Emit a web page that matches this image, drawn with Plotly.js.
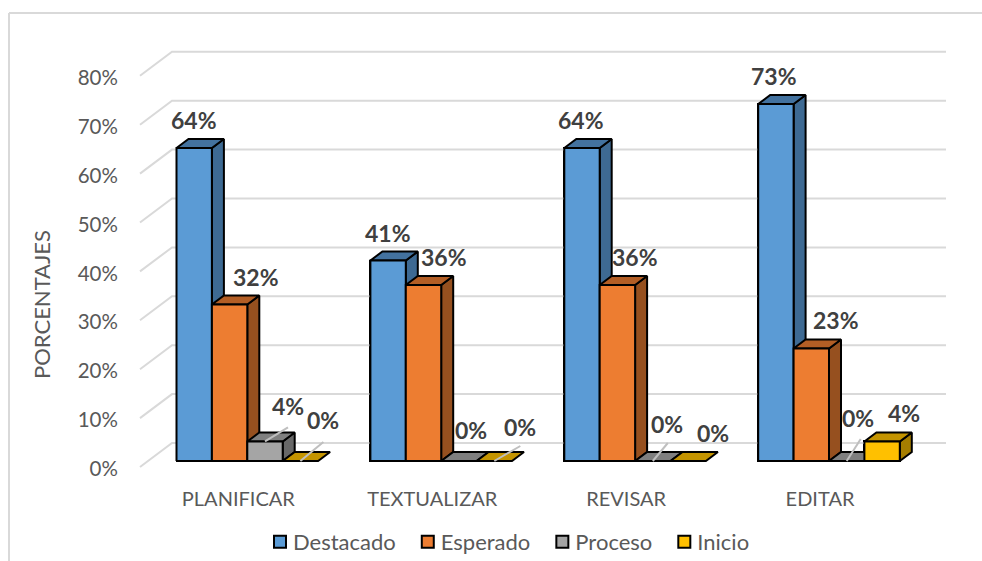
<!DOCTYPE html>
<html><head><meta charset="utf-8">
<script src="https://cdn.plot.ly/plotly-3.0.1.min.js"></script>
<style>html,body{margin:0;padding:0;background:#fff}#c{width:982px;height:561px}
#c .legend .legendsymbols{transform:translateX(7px)}</style>
</head><body><div id="c"></div>
<script>
const categories = ["PLANIFICAR","TEXTUALIZAR","REVISAR","EDITAR"];
const seriesNames = ["Destacado","Esperado","Proceso","Inicio"];
const destacado = [64,41,64,73];
const esperado = [32,36,36,23];
const proceso = [4,0,0,0];
const inicio = [0,0,0,4];
const yTicks = [0,10,20,30,40,50,60,70,80];

const frontColors = ["#5B9BD5","#ED7D31","#A5A5A5","#FFC000"];
const topColors = ["#43729F","#B35E25","#7F7F7F","#C49400"];
const sideColors = ["#3E6A93","#96501F","#686868","#A67E00"];

// label offsets in px from the top-centre of each bar's front face
const labelOffsets = [
  [[0,-28],[26,-28],[23,-35],[23,-41]],
  [[0,-28],[20,-28],[12,-31],[26,-34]],
  [[-1,-28],[18,-28],[14,-37],[25,-28]],
  [[-2,-28],[25,-29],[11,-43],[22,-28]]
];
// leader lines: [category, series, px dx, px dy]
const leaders = [[0,2,23,-14],[0,3,23,-19],[1,3,26,-15],[2,2,15,-18],[3,2,14,-22]];

const W=982,H=561,mL=138,mR=34,mT=50,mB=92;
const plotW=W-mL-mR, plotH=H-mT-mB;
const pxX=193.9, pxY=4.89;           // px per category, px per percent
const firstCenterPx=239.3;
const xRange=[(mL-firstCenterPx)/pxX,(W-mR-firstCenterPx)/pxX];
const yRange=[-2/pxY,(467-mT)/pxY];
const wallLeft=(140-firstCenterPx)/pxX, wallRight=(946-firstCenterPx)/pxX;
const barW=35.4/pxX;
const wallDX=32/pxX, wallDY=24/pxY;  // floor depth in data units
const zFront=0.25, zBack=0.625;      // bar depth within the floor
const values=[destacado,esperado,proceso,inicio];

const P=(x,y,z)=>[x+z*wallDX,y+z*wallDY];
function poly(pts,fill){
  const c=pts.concat([pts[0]]);
  return {type:"scatter",mode:"lines",x:c.map(p=>p[0]),y:c.map(p=>p[1]),fill:"toself",fillcolor:fill,
    line:{color:"#000",width:2,simplify:false},showlegend:false,hoverinfo:"skip"};
}

const traces=[];
// real bars (give the legend)
seriesNames.forEach((n,s)=>{
  traces.push({type:"bar",name:n,x:categories.map((_,i)=>i+zFront*wallDX),y:values[s],
    base:zFront*wallDY,width:barW,offset:(s-2)*barW,
    marker:{color:frontColors[s],line:{color:"#000",width:2}},hoverinfo:"y+name"});
});
// walls / gridlines
const gx=[],gy=[];
yTicks.forEach(t=>{
  const a=P(wallLeft,t,0), b=P(wallLeft,t,1);
  gx.push(a[0],b[0],wallRight,null); gy.push(a[1],b[1],b[1],null);
});
traces.push({type:"scatter",mode:"lines",x:gx,y:gy,line:{color:"#D9D9D9",width:2},showlegend:false,hoverinfo:"skip"});
// painted boxes, left to right
const annotations=[];
categories.forEach((c,i)=>{
  seriesNames.forEach((n,s)=>{
    const v=values[s][i], x0=i+(s-2)*barW, x1=x0+barW;
    if(v>0){
      traces.push(poly([P(x1,0,zFront),P(x1,0,zBack),P(x1,v,zBack),P(x1,v,zFront)],sideColors[s]));
    }
    traces.push(poly([P(x0,v,zFront),P(x0,v,zBack),P(x1,v,zBack),P(x1,v,zFront)],topColors[s]));
    if(v>0){
      traces.push(poly([P(x0,0,zFront),P(x0,v,zFront),P(x1,v,zFront),P(x1,0,zFront)],frontColors[s]));
    }
    const top=P((x0+x1)/2,v,zFront), o=labelOffsets[i][s];
    annotations.push({xref:"x",yref:"y",x:top[0],y:top[1],xshift:o[0],yshift:-o[1],showarrow:false,
      text:v+"%",font:{family:"Lato",size:23,color:"#404040",weight:700},xanchor:"center",yanchor:"middle"});
  });
});
annotations.push({xref:"paper",yref:"paper",x:(41-mL)/plotW,y:(H-mB-305)/plotH,showarrow:false,textangle:-90,
  xanchor:"center",yanchor:"middle",text:"PORCENTAJES",font:{family:"Lato",size:22,color:"#595959"}});
// leader lines
leaders.forEach(([i,s,dx,dy])=>{
  const v=values[s][i], x0=i+(s-1.5)*barW, a=P(x0,v,zFront);
  traces.push({type:"scatter",mode:"lines",x:[a[0],a[0]+dx/pxX],y:[a[1],a[1]-dy/pxY],
    line:{color:"#BFBFBF",width:2},showlegend:false,hoverinfo:"skip"});
});

const layout={
  width:W,height:H,margin:{l:mL,r:mR,t:mT,b:mB,autoexpand:false},
  paper_bgcolor:"#fff",plot_bgcolor:"rgba(0,0,0,0)",
  showlegend:true,
  legend:{orientation:"h",x:(253-mL)/plotW,xanchor:"left",y:-(542-(H-mB))/plotH,yanchor:"middle",
    font:{family:"Lato",size:22,color:"#595959"},bgcolor:"rgba(0,0,0,0)",traceorder:"normal",itemclick:false,itemdoubleclick:false},
  xaxis:{range:xRange,tickmode:"array",tickvals:categories.map((_,i)=>i-0.005),ticktext:categories,
    showgrid:false,zeroline:false,showline:false,ticks:"outside",ticklen:12,tickcolor:"rgba(0,0,0,0)",
    tickfont:{family:"Lato",size:20,color:"#595959"}},
  yaxis:{range:yRange,tickmode:"array",tickvals:yTicks,ticktext:yTicks.map(t=>t+"%"),ticklabelshift:2,
    showgrid:false,zeroline:false,showline:false,ticks:"outside",ticklen:15,tickcolor:"rgba(0,0,0,0)",
    tickfont:{family:"Lato",size:20.5,color:"#595959"}},
  annotations,
  shapes:[{type:"line",xref:"paper",yref:"paper",layer:"below",
    x0:(9-mL)/plotW,x1:(9-mL)/plotW,y0:-mB/plotH,y1:(H-13-mB)/plotH,line:{color:"#D9D9D9",width:2}},
    {type:"line",xref:"paper",yref:"paper",layer:"below",
    x0:(9-mL)/plotW,x1:(W-mL)/plotW,y0:(H-13-mB)/plotH,y1:(H-13-mB)/plotH,line:{color:"#D9D9D9",width:2}}],
  bargap:0
};
Plotly.newPlot("c",traces,layout,{displayModeBar:false});
</script></body></html>
